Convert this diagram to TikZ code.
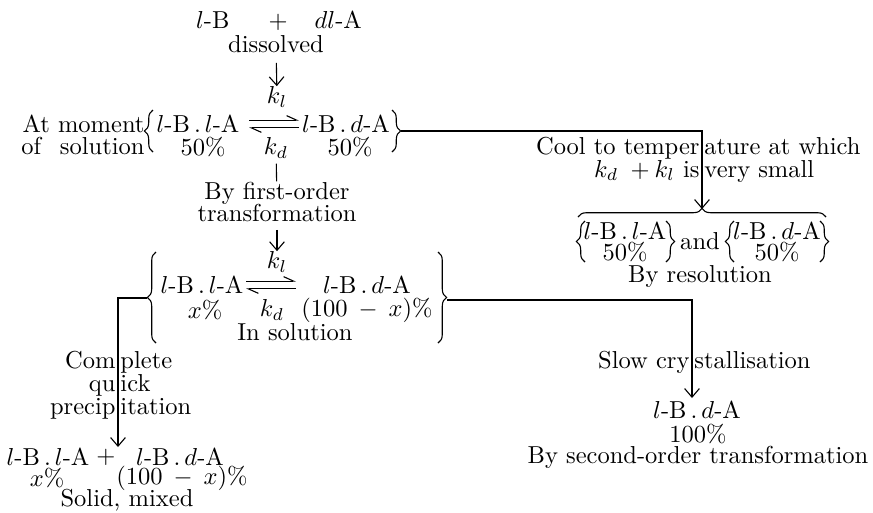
\documentclass[tikz,border=0pt]{standalone}
\usepackage{tikz}
\usetikzlibrary{arrows.meta, decorations.pathreplacing}
\newcommand{\saltpair}[1]{$l$-B\,.\,$#1$-A}

\begin{document}
\lineskiplimit=-20pt
\begin{tikzpicture}[x=0.408pt, y=-0.408pt,
    txt/.style={inner sep=0pt, align=center,
                font=\fontsize{10}{9.2}\selectfont},
    flow/.style={-{Straight Barb[length=3.5pt, width=6pt]}, line width=0.45pt},
    link/.style={line width=0.45pt},
    harp/.style={-{Straight Barb[harpoon, length=4pt, width=3.6pt]}, line width=0.45pt},
    curly/.style={decorate, decoration={brace, amplitude=3.5pt}, line width=0.45pt}]
  \useasboundingbox (0,0) rectangle (873,512);

  % starting mixture
  \node[txt] (mix) at (279,21) {$l$-B\hspace{16pt}$+$\hspace{11pt}$dl$-A};
  \node[txt] (diss) at (276,44) {dissolved};
  \node[txt] (kl1) at (277,97) {$k_l$};
  \draw[flow, shorten <=4pt] (diss) -- (kl1);

  % equilibrium at moment of solution
  \node[txt, anchor=east, align=right] (moment) at (145,135)
    {At moment\\of\hspace{7.7pt}solution};
  \node[txt] (ll1) at (198,124) {\saltpair{l}};
  \node[txt] (pa1) at (203,147) {50\%};
  \node[txt] (kd1) at (276,148) {$k_d$};
  \node[txt] (ld1) at (346,124) {\saltpair{d}};
  \node[txt] (pb1) at (350,147) {50\%};
  \coordinate (h1w) at (249,124);
  \coordinate (h1e) at (299,124);
  \draw[harp] ([yshift=1.6pt]h1w) -- ([yshift=1.6pt]h1e);
  \draw[harp] ([yshift=-1.6pt]h1e) -- ([yshift=-1.6pt]h1w);
  \draw[curly] (153,152) -- (153,110);
  \draw[curly] (392,110) -- (392,152);

  % first-order transformation
  \node[txt] (first) at (277,202) {By first-order\\transformation};
  \draw[link, shorten <=2pt] (kd1) -- (first);
  \node[txt] (kl2) at (277,262) {$k_l$};
  \draw[flow, shorten <=3pt] (first) -- (kl2);

  % equilibrium in solution
  \node[txt] (ll2) at (202,285) {\saltpair{l}};
  \node[txt] (pa2) at (205,310) {$x$\%};
  \node[txt] (kd2) at (272,310) {$k_d$};
  \node[txt] (ld2) at (367,285) {\saltpair{d}};
  \node[txt] (pb2) at (367,310) {$(100\:-\:x)$\%};
  \node[txt] (insol) at (295,332) {In solution};
  \coordinate (h2w) at (246,285);
  \coordinate (h2e) at (296,285);
  \draw[harp] ([yshift=1.6pt]h2w) -- ([yshift=1.6pt]h2e);
  \draw[harp] ([yshift=-1.6pt]h2e) -- ([yshift=-1.6pt]h2w);
  \draw[curly] (156,343) -- (156,252);
  \draw[curly] (438,252) -- (438,343);

  % cooling branch
  \coordinate (eq1out) at (401,131);
  \coordinate (coolend) at (702,209);
  \draw[flow] (eq1out) -| (coolend);
  \node[txt, anchor=base east] (cool1) at (700,154) {Cool to temper};
  \node[txt, anchor=base west] (cool2) at (704,154) {ature at which};
  \node[txt, anchor=base east] (small1) at (700,177)
    {$k_d$\hspace{5pt}$+$\hspace{2pt}$k_l$ is};
  \node[txt, anchor=base west] (small2) at (704,177) {very small};
  \draw[curly] (578,217) -- (826,217);
  \node[txt] (rll) at (625,231) {\saltpair{l}};
  \node[txt] (rpa) at (625,252) {50\%};
  \draw[curly] (585,262) -- (585,221);
  \draw[curly] (666,221) -- (666,262);
  \node[txt] (and) at (700,241) {and};
  \node[txt] (rld) at (777,231) {\saltpair{d}};
  \node[txt] (rpb) at (777,252) {50\%};
  \draw[curly] (734,262) -- (734,221);
  \draw[curly] (820,221) -- (820,262);
  \node[txt] (resol) at (700,277) {By resolution};

  % quick precipitation branch
  \coordinate (eq2west) at (147,298);
  \coordinate (precipend) at (118,447);
  \draw[flow] (eq2west) -| (precipend);
  \node[txt, anchor=base east] (com1) at (116,368) {Com};
  \node[txt, anchor=base west] (com2) at (120,368) {plete};
  \node[txt, anchor=base east] (qu1) at (116,391) {qu};
  \node[txt, anchor=base west] (qu2) at (120,391) {ick};
  \node[txt, anchor=base east] (pre1) at (116,414) {precip};
  \node[txt, anchor=base west] (pre2) at (120,414) {itation};
  \node[txt] (sll) at (48,457) {\saltpair{l}};
  \node[txt] (splus) at (106,457) {$+$};
  \node[txt] (sld) at (180,457) {\saltpair{d}};
  \node[txt] (spa) at (47,478) {$x$\%};
  \node[txt] (spb) at (182,478) {$(100\:-\:x)$\%};
  \node[txt] (solid) at (127,500) {Solid, mixed};

  % slow crystallisation branch
  \coordinate (eq2east) at (447,300);
  \coordinate (slowend) at (692,398);
  \draw[flow] (eq2east) -| (slowend);
  \node[txt, anchor=base east] (slow1) at (690,368) {Slow cry};
  \node[txt, anchor=base west] (slow2) at (694,368) {stallisation};
  \node[txt] (cld) at (697,410) {\saltpair{d}};
  \node[txt] (cpc) at (698,434) {100\%};
  \node[txt] (second) at (698,457) {By second-order transformation};
\end{tikzpicture}
\end{document}
